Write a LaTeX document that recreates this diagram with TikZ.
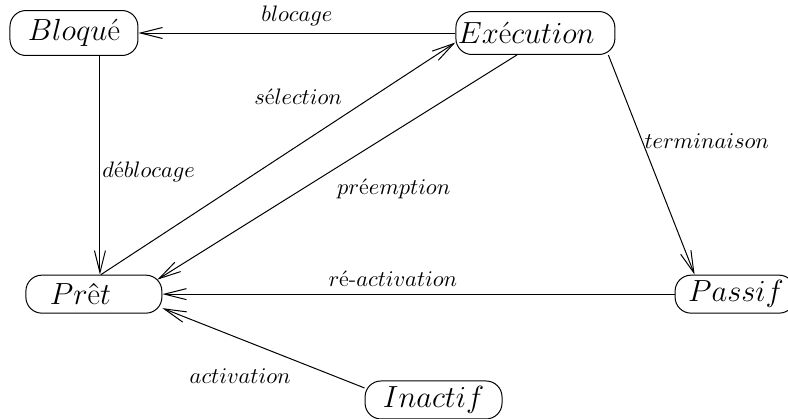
\RequirePackage{fix-cm}
\documentclass[tikz,border=0pt]{standalone}
\usepackage{amsmath}
\usetikzlibrary{arrows.meta}

\tikzset{
  etat/.style={draw, rounded corners=8pt, minimum height=19pt, inner ysep=0pt,
               font=\fontsize{15.3}{18}\selectfont},
  fleche/.style={-{Straight Barb[length=11pt,width=5.5pt]}},
  etiq/.style={font=\fontsize{11.2}{13}\selectfont}
}

\begin{document}
\begin{tikzpicture}[line width=0.5pt]
                    \useasboundingbox (0,0) rectangle (13.85,7.35);

                    % les etats
                    \node[etat, minimum width=64pt, minimum height=22.5pt] (bloque) at (1.30,6.77) {$Bloqu\text{é}$};
                    \node[etat, minimum height=21.5pt, text width=77.5pt, inner xsep=1pt, align=left] (exec) at (9.41,6.77) {$Ex\text{é}cution$};
                    \node[etat, text width=44pt, inner xsep=12pt, align=left] (pret) at (1.65,2.18) {$Pr\text{ê}t$};
                    \node[etat, text width=47pt, inner xsep=6.5pt, align=left] (passif) at (12.92,2.18) {$Passif$};
                    \node[etat, minimum width=68.5pt] (inactif) at (7.62,0.32) {$Inactif$};

                    % les transitions
                    \draw[fleche] (exec.west) -- node[etiq, above] {$blocage$} (bloque.east);
                    \draw[fleche] ([xshift=13pt]bloque.south) -- node[etiq, right, pos=0.53, inner sep=1pt] {$d\text{é}blocage$} ([xshift=13pt]bloque.south |- pret.north);
                    \draw[fleche] ([xshift=3.5pt]pret.north) -- node[etiq, above left, pos=0.7] {$s\text{é}lection$} ([yshift=-4.75pt]exec.west);
                    \draw[fleche] ([xshift=-9.25pt]exec.south) -- node[etiq, below right, pos=0.52] {$pr\text{é}emption$} ([xshift=-2.5pt,yshift=-2.5pt]pret.north east);
                    \draw[fleche] ([xshift=-3.5pt]exec.south east) -- node[etiq, right, pos=0.39, inner sep=1pt] {$terminaison$} ([xshift=10pt]passif.north west);
                    \draw[fleche] (passif.west) -- node[etiq, above, pos=0.55] {$r\text{é-}activation$} (pret.east);
                    \draw[fleche] ([yshift=6pt]inactif.west) -- node[etiq, below left, pos=0.33] {$activation$} ([yshift=-7pt]pret.east);
\end{tikzpicture}
\end{document}
